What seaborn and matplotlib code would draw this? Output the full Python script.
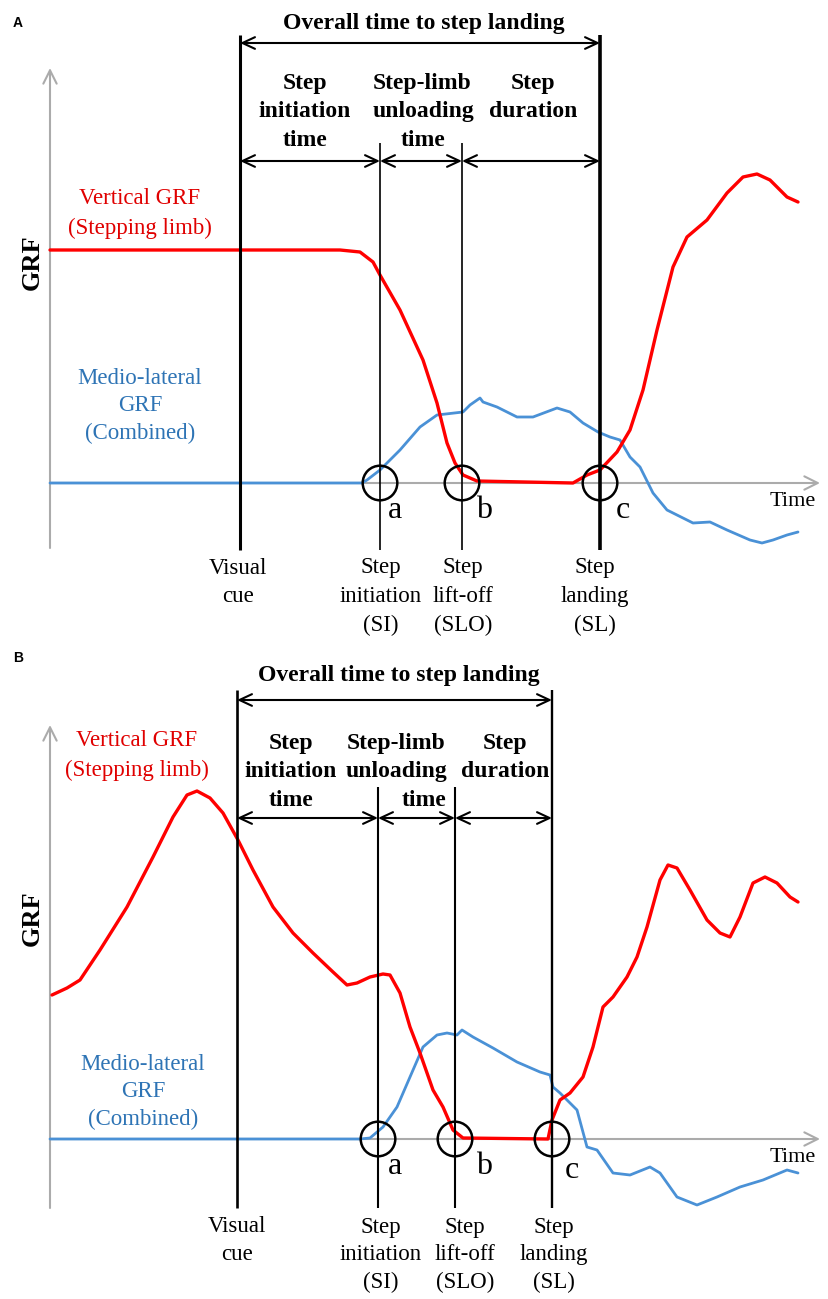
import numpy as np
import pandas as pd
import matplotlib
matplotlib.use("Agg")
import matplotlib.pyplot as plt
import seaborn as sns

sns.set_theme(style="white")
plt.rcParams["font.family"] = ["Liberation Serif", "DejaVu Serif"]
plt.rcParams["text.color"] = "black"

RED = "#ff0000"
RED_TXT = "#e00000"
BLUE = "#4a91d6"
BLUE_TXT = "#2e74b5"
GREY = "#ababab"

# time: 0 at the GRF axis, GRF: 0 at the time axis (arbitrary units)
a_red_t = [0, 290, 310, 323, 330, 350, 373, 387, 397, 405, 413, 427, 523, 537, 550, 567,
           580, 593, 607, 623, 637, 657, 677, 693, 707, 720, 737, 748]
a_red_v = [233, 233, 231, 221, 208, 173, 123, 80, 40, 20, 8, 2, 0, 8, 13, 31,
           53, 93, 153, 216, 246, 263, 290, 306, 309, 303, 286, 281]
a_blue_t = [0, 312, 317, 330, 350, 370, 387, 413, 420, 430, 433, 447, 467, 483, 507, 520,
            533, 548, 560, 570, 580, 590, 603, 617, 643, 660, 677, 700, 712, 723, 737, 748]
a_blue_v = [0, 0, 3, 13, 33, 56, 68, 71, 78, 85, 81, 76, 66, 66, 75, 71,
            60, 51, 46, 43, 26, 16, -10, -27, -40, -39, -47, -57, -60, -57, -52, -49]
a_events = [190, 330, 412, 550]

b_red_t = [2, 17, 30, 50, 77, 103, 123, 137, 147, 160, 173, 188, 203, 223, 243, 263, 283,
           297, 307, 320, 333, 340, 350, 360, 370, 383, 393, 403, 413, 498, 502, 510, 520,
           533, 543, 553, 563, 577, 587, 597, 610, 618, 627, 640, 657, 670, 680, 690, 703,
           715, 727, 740, 748]
b_red_v = [144, 151, 159, 189, 232, 282, 322, 344, 348, 341, 326, 299, 269, 232, 206, 186, 167,
           154, 156, 162, 165, 164, 146, 112, 86, 49, 32, 9, 1, 0, 19, 39, 46,
           62, 92, 132, 142, 162, 182, 212, 259, 274, 271, 249, 219, 206, 202, 222, 256,
           262, 256, 242, 237]
b_blue_t = [0, 310, 320, 333, 347, 360, 373, 387, 397, 407, 412, 423, 443, 467, 490, 500, 503,
            510, 520, 527, 537, 547, 563, 580, 600, 610, 627, 647, 667, 690, 713, 737, 748]
b_blue_v = [0, 0, 1, 12, 32, 62, 92, 104, 106, 104, 109, 102, 91, 77, 67, 64, 52,
            46, 36, 29, -8, -11, -34, -36, -28, -34, -58, -66, -58, -48, -41, -31, -34]
b_events = [187, 328, 405, 502]

event_names = [["Visual", "cue"], ["Step", "initiation", "(SI)"],
               ["Step", "lift-off", "(SLO)"], ["Step", "landing", "(SL)"]]
circle_labels = ["a", "b", "c"]

layout_a = dict(
    ylim=(-167, 483), label="A", label_pos=(-32, 460),
    overall=(374, 459), arrow1=440, arrow2=322, tall=448, short=340, vbottom=-67,
    init_x=255, unload_x=[372, 373, 373], dur_x=483, head_y=400,
    vgrf=(90, 284), ml=(90, 105), grf=(-18, 221),
    abc=[(345, -27), (434, -28), (573, -28)], time=(743, -18),
    bottom_x=[188, 331, 413, 545], bottom_y=-85, bottom_step=28.5,
    yaxis=(-65, 415), lw=[2.2, 1.2, 1.2, 2.6],
)
layout_b = dict(
    ylim=(-160, 489), label="B", label_pos=(-32, 481),
    overall=(349, 464), arrow1=439, arrow2=321, tall=449, short=352, vbottom=-69,
    init_x=241, unload_x=[346, 346, 374], dur_x=455, head_y=396,
    vgrf=(87, 398), ml=(93, 75), grf=(-18, 221),
    abc=[(345, -28), (434, -28), (522, -31)], time=(743, -19),
    bottom_x=[187, 331, 415, 504], bottom_y=-88, bottom_step=27.5,
    yaxis=(-69, 414), lw=[1.9, 1.5, 1.5, 1.7],
)


def rows(ax, xs, y0, texts, step=28.5, **kw):
    if not isinstance(xs, list):
        xs = [xs] * len(texts)
    for i, (x, t) in enumerate(zip(xs, texts)):
        ax.text(x, y0 - i * step, t, ha="center", va="center", **kw)


def double_arrow(ax, t0, t1, v):
    ax.annotate("", xy=(t1, v), xytext=(t0, v),
                arrowprops=dict(arrowstyle="<->,head_length=0.75,head_width=0.35",
                                color="black", lw=1.5, shrinkA=0, shrinkB=0))


def draw_panel(ax, red_t, red_v, blue_t, blue_v, events, L):
    ax.set_xlim(-50, 779)
    ax.set_ylim(*L["ylim"])
    ax.axis("off")

    # gray axes with open arrow heads
    ax.annotate("", xy=(0, L["yaxis"][1]), xytext=(0, L["yaxis"][0]),
                arrowprops=dict(arrowstyle="->,head_length=0.8,head_width=0.4",
                                color=GREY, lw=1.5, shrinkA=0, shrinkB=0))
    ax.annotate("", xy=(770, 0), xytext=(0, 0),
                arrowprops=dict(arrowstyle="->,head_length=0.8,head_width=0.4",
                                color=GREY, lw=1.5, shrinkA=0, shrinkB=0))

    blue = pd.DataFrame({"t": blue_t, "v": blue_v})
    red = pd.DataFrame({"t": red_t, "v": red_v})
    sns.lineplot(data=blue, x="t", y="v", ax=ax, color=BLUE, lw=2.0, zorder=3)
    sns.lineplot(data=red, x="t", y="v", ax=ax, color=RED, lw=2.4, zorder=4)
    ax.set_xlabel("")
    ax.set_ylabel("")

    # event lines
    tops = [L["tall"], L["short"], L["short"], L["tall"]]
    ax.vlines(events, L["vbottom"], tops, colors="black", linewidths=L["lw"], zorder=5)

    # interval arrows
    double_arrow(ax, events[0], events[3], L["arrow1"])
    for t0, t1 in zip(events[:-1], events[1:]):
        double_arrow(ax, t0, t1, L["arrow2"])

    # circles at events a, b, c
    ax.scatter(events[1:], [0, 0, 0], s=620, facecolors="none", edgecolors="black",
               linewidths=1.8, zorder=6)
    for (x, y), s in zip(L["abc"], circle_labels):
        ax.text(x, y, s, ha="center", va="center", fontsize=23)

    bold = dict(fontsize=17, fontweight="bold")
    ax.text(*L["overall"], "Overall time to step landing", ha="center", va="center", **bold)
    rows(ax, L["init_x"], L["head_y"], ["Step", "initiation", "time"], **bold)
    rows(ax, L["unload_x"], L["head_y"], ["Step-limb", "unloading", "time"], **bold)
    rows(ax, L["dur_x"], L["head_y"], ["Step", "duration"], **bold)

    rows(ax, L["vgrf"][0], L["vgrf"][1], ["Vertical GRF", "(Stepping limb)"],
         step=29, fontsize=16.5, color=RED_TXT)
    rows(ax, L["ml"][0], L["ml"][1], ["Medio-lateral", "GRF", "(Combined)"],
         step=27.5, fontsize=16.5, color=BLUE_TXT)
    ax.text(*L["grf"], "GRF", rotation=90, ha="center", va="center",
            fontsize=19, fontweight="bold")
    ax.text(*L["time"], "Time", ha="center", va="center", fontsize=16)

    for x, names in zip(L["bottom_x"], event_names):
        rows(ax, x, L["bottom_y"], names, step=L["bottom_step"], fontsize=16.5)

    ax.text(*L["label_pos"], L["label"], ha="center", va="center", fontsize=10,
            fontweight="bold", family=["Liberation Sans", "DejaVu Sans"])


fig = plt.figure(figsize=(8.29, 12.99), dpi=100)
ax_a = fig.add_axes([0, 1 - 650 / 1299, 1, 650 / 1299])
ax_b = fig.add_axes([0, 0, 1, 649 / 1299])

draw_panel(ax_a, a_red_t, a_red_v, a_blue_t, a_blue_v, a_events, layout_a)
draw_panel(ax_b, b_red_t, b_red_v, b_blue_t, b_blue_v, b_events, layout_b)

fig.savefig("out.png", dpi=100, facecolor="white")
